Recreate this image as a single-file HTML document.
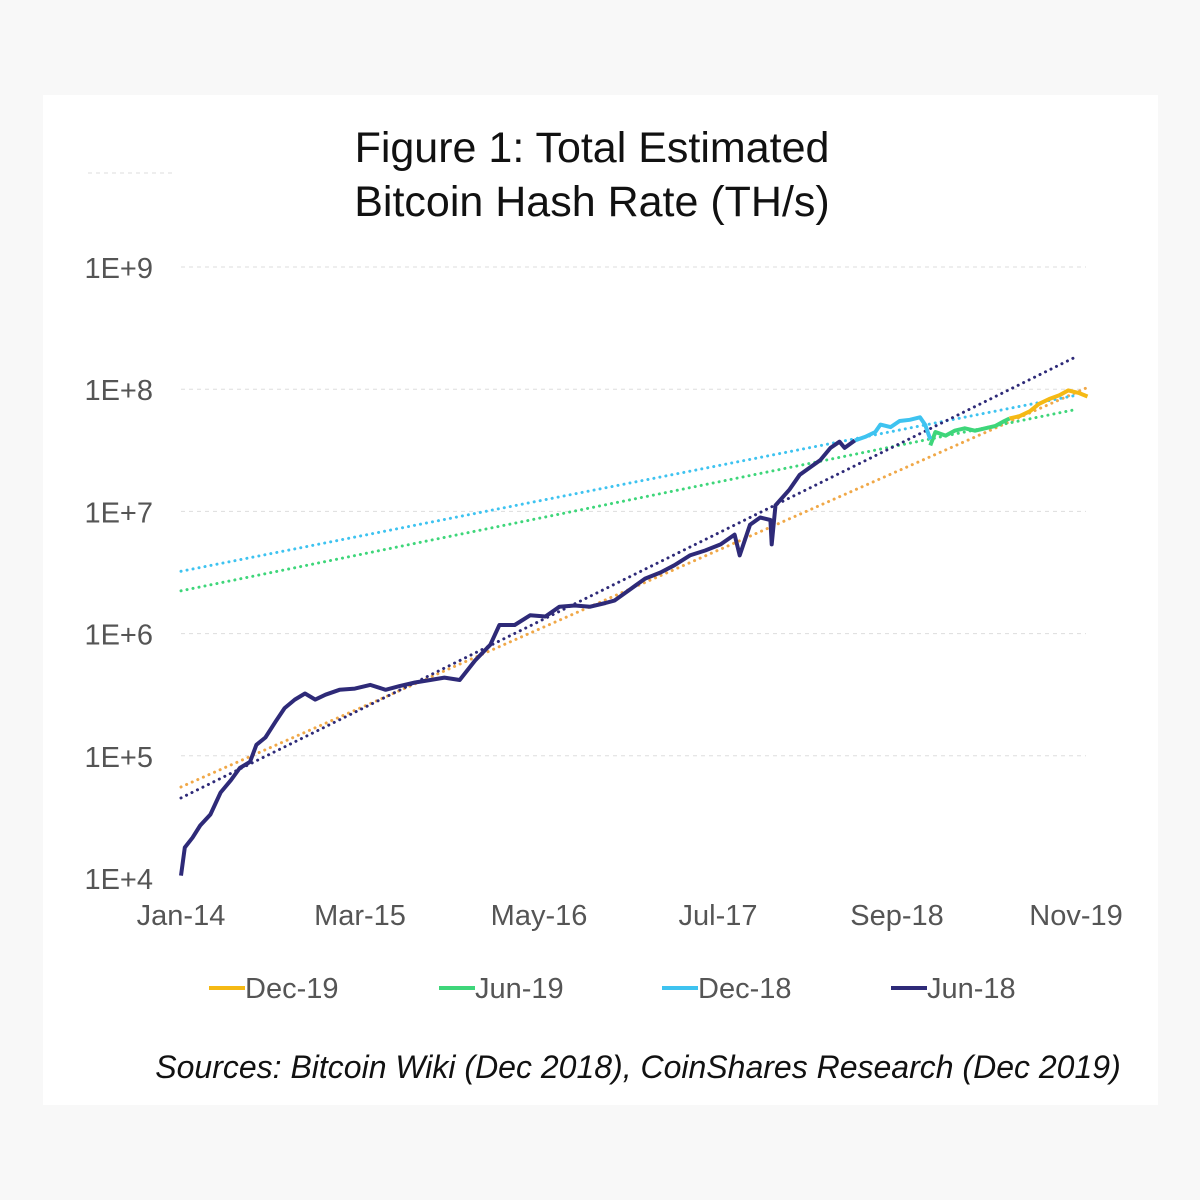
<!DOCTYPE html>
<html><head><meta charset="utf-8">
<style>
html,body{margin:0;padding:0;background:#f8f8f8;}
#wrap{position:relative;width:1200px;height:1200px;overflow:hidden;background:#f8f8f8;font-family:"Liberation Sans",sans-serif;}
#panel{position:absolute;left:43px;top:95px;width:1115px;height:1010px;background:#fff;}
svg{position:absolute;left:0;top:0;}
</style></head>
<body>
<div id="wrap">
<div id="panel"></div>
<svg id="chart" width="1200" height="1200">
<line x1="88" y1="173" x2="175" y2="173" stroke="#ddd" stroke-dasharray="4,4"/>
<text x="592" y="162" text-anchor="middle" font-size="43" fill="#111">Figure 1: Total Estimated</text>
<text x="592" y="216" text-anchor="middle" font-size="43" fill="#111">Bitcoin Hash Rate (TH/s)</text>
<g id="grid"></g><g id="yt"></g><g id="xt"></g><g id="trends"></g><g id="series"></g><g id="legend"></g>
<text x="638" y="1078" text-anchor="middle" font-size="32" font-style="italic" fill="#111">Sources: Bitcoin Wiki (Dec 2018), CoinShares Research (Dec 2019)</text>
</svg>
</div>
<script>
const yTicks=[4,5,6,7,8,9];
const yTickLabels=["1E+4","1E+5","1E+6","1E+7","1E+8","1E+9"];
const xTicks=[0,14,28,42,56,70];
const xTickLabels=["Jan-14","Mar-15","May-16","Jul-17","Sep-18","Nov-19"];
const seriesNames=["Dec-19","Jun-19","Dec-18","Jun-18"];
const seriesColors=["#f5b914","#3ed67a","#3ec3f0","#2e2a78"];
const trendColors=["#f0a848","#3ed67a","#3ec3f0","#2e2a78"];
// months since Jan-14 and log10(TH/s)
const jun18M=[0,0.3,0.9,1.5,2.3,3.1,3.9,4.6,5.4,5.9,6.6,7.4,8.1,8.9,9.7,10.5,11.3,12.4,13.6,14.8,16.0,17.1,18.3,19.5,20.6,21.8,23.0,24.2,24.9,26.1,27.3,28.5,29.6,30.8,32.0,33.2,33.9,35.1,36.3,37.5,38.6,39.8,41.0,42.2,43.3,43.7,44.5,45.3,46.1,46.2,46.5,47.6,48.4,49.2,50.0,50.8,51.5,51.9,52.7];
const jun18V=[4.02,4.25,4.33,4.43,4.52,4.70,4.80,4.90,4.95,5.09,5.15,5.28,5.39,5.46,5.51,5.46,5.50,5.54,5.55,5.58,5.54,5.57,5.60,5.62,5.64,5.62,5.78,5.91,6.07,6.07,6.15,6.14,6.22,6.23,6.22,6.25,6.27,6.36,6.45,6.50,6.56,6.64,6.68,6.73,6.81,6.64,6.89,6.95,6.93,6.73,7.05,7.18,7.30,7.36,7.42,7.52,7.57,7.52,7.58];
const dec18M=[52.7,53.5,54.3,54.7,55.5,56.2,57.0,57.8,58.2,58.6];
const dec18V=[7.58,7.61,7.65,7.71,7.69,7.74,7.75,7.77,7.71,7.59];
const jun19M=[58.6,59.0,59.8,60.5,61.3,62.1,62.9,63.7,64.4,64.8];
const jun19V=[7.54,7.65,7.62,7.66,7.68,7.66,7.68,7.70,7.74,7.76];
const dec19M=[64.8,65.6,66.4,67.1,67.9,68.7,69.4,70.2,70.9];
const dec19V=[7.76,7.78,7.82,7.88,7.92,7.95,7.99,7.97,7.94];
const trendStartM=[0,0,0,0];
const trendEndM=[70.8,69.8,70,69.8];
const trendStartV=[4.745,6.35,6.51,4.655];
const trendEndV=[8.01,7.83,7.95,8.255];

const NS="http://www.w3.org/2000/svg";
const xS=m=>181+m*12.786;
const yS=v=>878-(v-4)*122.2;
function mk(tag,attrs,parent){const e=document.createElementNS(NS,tag);for(const k in attrs)e.setAttribute(k,attrs[k]);document.getElementById(parent).appendChild(e);return e;}
yTicks.forEach((t,i)=>{
  if(i>0){const g=mk('line',{x1:181,x2:1086,y1:yS(t),y2:yS(t),stroke:'#ddd','stroke-dasharray':'4,4'},'grid');
  
  }
  const l=mk('text',{x:153,y:yS(t)+11,'text-anchor':'end','font-size':29,fill:'#555'},'yt');l.textContent=yTickLabels[i];
  
  
});
xTicks.forEach((t,i)=>{
  const l=mk('text',{x:xS(t),y:925,'text-anchor':'middle','font-size':29,fill:'#555'},'xt');l.textContent=xTickLabels[i];
  
  
});
[0,1,2,3].forEach(i=>{
  const t=mk('line',{x1:xS(trendStartM[i]),y1:yS(trendStartV[i]),x2:xS(trendEndM[i]),y2:yS(trendEndV[i]),stroke:trendColors[i],'stroke-width':3,'stroke-dasharray':'0.1,6','stroke-linecap':'round'},'trends');
  
  
});
const sets=[[dec19M,dec19V],[jun19M,jun19V],[dec18M,dec18V],[jun18M,jun18V]];
sets.forEach((s,i)=>{
  const d=s[0].map((m,j)=>(j?'L':'M')+xS(m).toFixed(1)+','+yS(s[1][j]).toFixed(1)).join(' ');
  const p=mk('path',{d:d,fill:'none',stroke:seriesColors[i],'stroke-width':4,'stroke-linejoin':'round'},'series');
  
  
});
const legX=[209,439,662,891];
seriesNames.forEach((n,i)=>{
  const l=mk('line',{x1:legX[i],x2:legX[i]+36,y1:988,y2:988,stroke:seriesColors[i],'stroke-width':4},'legend');
  
  
  const t=mk('text',{x:legX[i]+36,y:998,'font-size':29,fill:'#555'},'legend');t.textContent=n;
  
  
});
</script>
</body></html>
